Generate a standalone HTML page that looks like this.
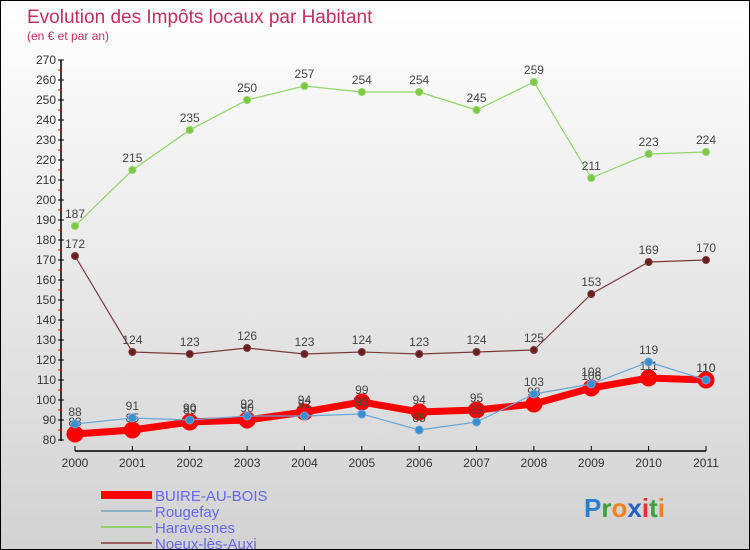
<!DOCTYPE html>
<html><head><meta charset="utf-8">
<style>
html,body{margin:0;padding:0;}
body{width:750px;height:550px;overflow:hidden;font-family:"Liberation Sans",sans-serif;}
#wrap{position:relative;width:748px;height:548px;border:1px solid #000;background:linear-gradient(#ffffff,#d2d2d2);}
</style></head>
<body>
<div id="wrap">
<svg id="chart" width="748" height="548" style="position:absolute;left:0;top:0"></svg>
</div>
<script>
const years=["2000","2001","2002","2003","2004","2005","2006","2007","2008","2009","2010","2011"];
const buire=[83,85,89,90,94,99,94,95,98,106,111,110];
const rougefay=[88,91,90,92,92,93,85,89,103,108,119,110];
const haravesnes=[187,215,235,250,257,254,254,245,259,211,223,224];
const noeux=[172,124,123,126,123,124,123,124,125,153,169,170];
const yTicks=[80,90,100,110,120,130,140,150,160,170,180,190,200,210,220,230,240,250,260,270];
const names=["BUIRE-AU-BOIS","Rougefay","Haravesnes","Noeux-lès-Auxi"];

const NS="http://www.w3.org/2000/svg";
const svg=document.getElementById('chart');
function X(i){return 74+i*(631/11);}
function Y(v){return 439-(v-80)*2;}
function mk(tag,attrs,parent){const e=document.createElementNS(NS,tag);for(const k in attrs)e.setAttribute(k,attrs[k]);(parent||svg).appendChild(e);return e;}

// title
let t=mk('text',{x:26,y:22,'font-size':19,fill:'#c0305a'});t.textContent="Evolution des Impôts locaux par Habitant";


t=mk('text',{x:26,y:39,'font-size':12,fill:'#c0305a'});t.textContent="(en € et par an)";



// axes
let ax=mk('line',{x1:60,y1:59,x2:60,y2:440,stroke:'#000','stroke-width':1.5});


yTicks.forEach(v=>{
  mk('line',{x1:57,y1:Y(v),x2:63,y2:Y(v),stroke:'#000'});
  if(v<270)mk('line',{x1:57,y1:Y(v+5),x2:61,y2:Y(v+5),stroke:'#e00'});
  const l=mk('text',{x:55,y:Y(v)+4,'font-size':12,fill:'#333','text-anchor':'end'});l.textContent=v;
  
  
});
let xa=mk('line',{x1:X(0),y1:450,x2:X(11),y2:450,stroke:'#000','stroke-width':1.5});


years.forEach((y,i)=>{
  mk('line',{x1:X(i),y1:445,x2:X(i),y2:450,stroke:'#000'});
  const l=mk('text',{x:X(i),y:466,'font-size':12,fill:'#333','text-anchor':'middle'});l.textContent=y;
  
  
});

function series(data,color,lw,r,name,fillc){
  const g=mk('g',{});
  
  
  mk('polyline',{points:data.map((v,i)=>X(i)+','+Y(v)).join(' '),fill:'none',stroke:color,'stroke-width':lw,'stroke-linejoin':'round'},g);
  data.forEach((v,i)=>{
    const c=mk('circle',{cx:X(i),cy:Y(v),r:r,fill:fillc,stroke:color,'stroke-width':1},g);
    
    
    const l=mk('text',{x:X(i),y:Y(v)-8,'font-size':12,fill:'#444','text-anchor':'middle'},g);l.textContent=v;
  });
}
series(haravesnes,'#8fd46a',1.2,3.5,'haravesnes-series','#7cc843');
series(noeux,'#7a3a3a',1.2,3.5,'noeux-series','#6b2020');
series(buire,'#ff0000',7,8,'buire-series','#ff0000');
series(rougefay,'#6aa6d8',1.2,4,'rougefay-series','#3a8ed0');

// legend
const lc=[['#ff0000',8],['#8ab0cc',2],['#8fd46a',2],['#9a6060',2]];
names.forEach((n,i)=>{
  const y=494+i*16;
  const ln=mk('line',{x1:100,y1:y,x2:151,y2:y,stroke:lc[i][0],'stroke-width':lc[i][1]});
  
  
  const l=mk('text',{x:154,y:y+6,'font-size':15,fill:'#6666ee'});l.textContent=n;
  
  
});
// logo
const lg=mk('text',{x:583,y:516,'font-size':26,'font-weight':'bold'});


[['P','#2a7fd0'],['r','#3aa040'],['o','#f08020'],['x','#2a60c0'],['i','#e03030'],['t','#40a040'],['i','#f08020']].forEach(p=>{const s=mk('tspan',{fill:p[1]},lg);s.textContent=p[0];});
</script>
</body></html>
